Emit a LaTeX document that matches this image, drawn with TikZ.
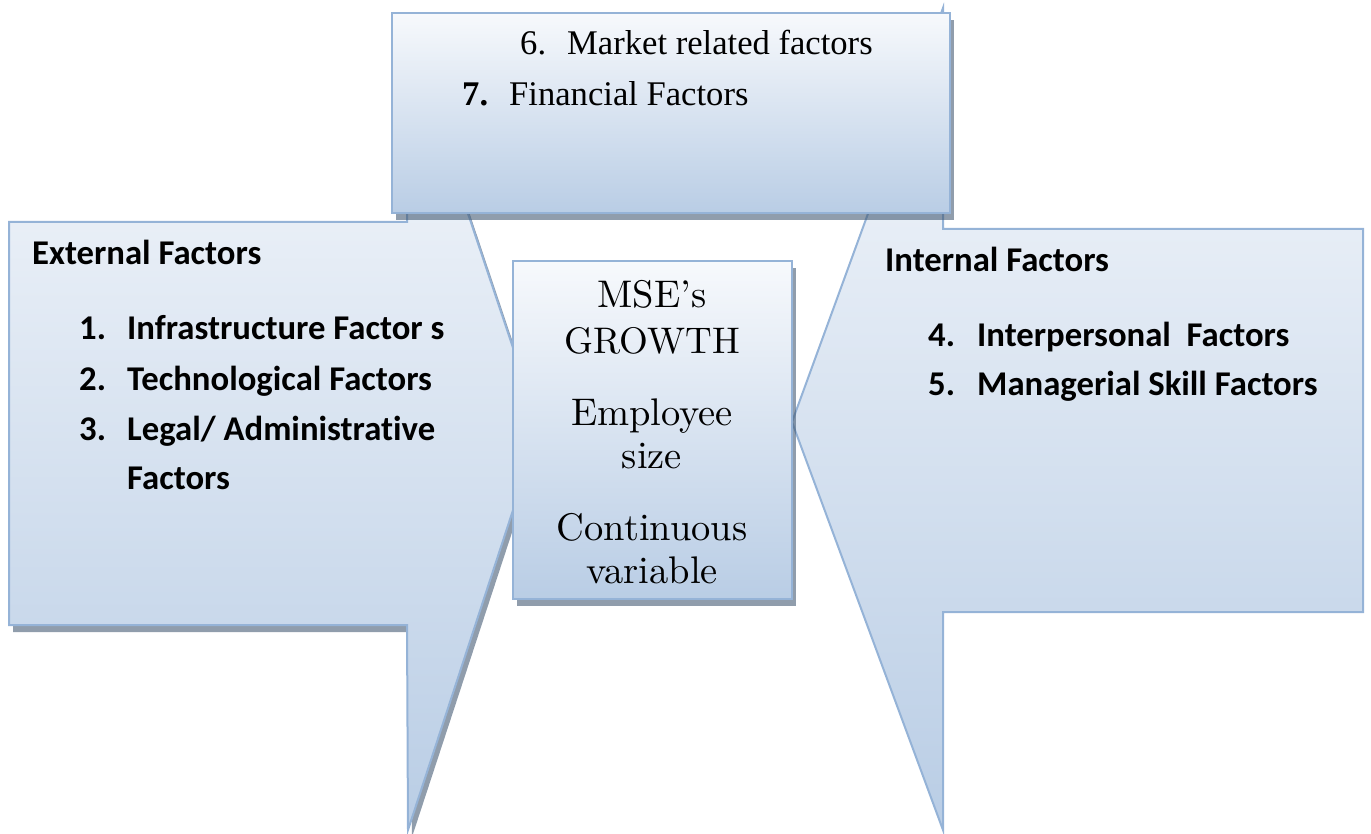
\documentclass[tikz,border=0pt]{standalone}
\usepackage{fontspec}
\newfontfamily\calib{Carlito}[Ligatures=NoCommon]
\newfontfamily\timesf{Liberation Serif}
\newfontfamily\lmten{lmroman10-regular.otf}
\definecolor{edge}{HTML}{95B3D7}
\definecolor{gtop}{HTML}{F7F9FC}
\definecolor{gbot}{HTML}{B9CDE5}
\definecolor{shade}{HTML}{3F5670}
\begin{document}
\begin{tikzpicture}[x=1pt,y=-1pt,
  panel/.style={draw=edge,line width=2pt,top color=gtop,bottom color=gbot,line join=miter},
  dropshadow/.style={fill=shade,fill opacity=0.58,draw=none,
    transform canvas={xshift=4pt,yshift=-7pt}},
  head/.style={font=\calib\bfseries\fontsize{34.7}{40}\selectfont,anchor=base west,inner sep=0pt},
  toptxt/.style={font=\timesf\fontsize{34.6}{40}\selectfont,anchor=base west,inner sep=0pt},
  mid/.style={font=\lmten\fontsize{38.5}{44}\selectfont,anchor=base,inner sep=0pt}]
\useasboundingbox (0,0) rectangle (1371,834);

% outline points of the external-factors callout
\coordinate (L1) at (9,222);   \coordinate (L2) at (407,222);
\coordinate (L3) at (407,32);  \coordinate (L4) at (540,428);
\coordinate (L5) at (408,830); \coordinate (L6) at (407,625);
\coordinate (L7) at (9,625);
% outline points of the internal-factors callout
\coordinate (R1) at (943,229);  \coordinate (R2) at (1363,229);
\coordinate (R3) at (1363,612); \coordinate (R4) at (943,612);
\coordinate (R5) at (943,830);  \coordinate (R6) at (792,422);
\coordinate (R7) at (943,8);
% top and centre boxes
\coordinate (T1) at (392,13);  \coordinate (T2) at (950,213);
\coordinate (C1) at (513,261); \coordinate (C2) at (792,599);

% external factors callout with its shadow
\fill[dropshadow] (L1) -- (L2) -- (L3) -- (L4) -- (L5) -- (L6) -- (L7) -- cycle;
\path[panel] (L1) -- (L2) -- (L3) -- (L4) -- (L5) -- (L6) -- (L7) -- cycle;

% internal factors callout
\path[panel] (R1) -- (R2) -- (R3) -- (R4) -- (R5) -- (R6) -- (R7) -- cycle;

% market / financial box
\fill[dropshadow] (T1) rectangle (T2);
\path[panel] (T1) rectangle (T2);

% growth box
\fill[dropshadow] (C1) rectangle (C2);
\path[panel] (C1) rectangle (C2);

% top box text
\node[toptxt] (n6) at (520,55) {6.};
\node[toptxt] (t6) at (567,55) {Market related factors};
\node[toptxt,font=\timesf\bfseries\fontsize{34.6}{40}\selectfont] (n7) at (462,106) {7.};
\node[toptxt] (t7) at (509,106) {Financial Factors};

% external factors
\node[head] (ext) at (32,265) {External Factors};
\node[head] (n1) at (79,340) {1.};
\node[head] (t1) at (127,340) {Infrastructure Factor s};
\node[head] (n2) at (79,390) {2.};
\node[head] (t2) at (127,390) {Technological Factors};
\node[head] (n3) at (79,440) {3.};
\node[head] (t3) at (127,440) {Legal/ Administrative};
\node[head] (t3b) at (127,489) {Factors};

% internal factors
\node[head] (int) at (885,272) {Internal Factors};
\node[head] (n4) at (928,347) {4.};
\node[head] (t4) at (977,347) {Interpersonal\ \ Factors};
\node[head] (n5) at (928,395) {5.};
\node[head] (t5) at (977,395) {Managerial Skill Factors};

% growth box text
\node[mid] (m1) at (652,308) {MSE’s};
\node[mid,font=\lmten\fontsize{37}{44}\selectfont] (m2) at (652,353) {GROWTH};
\node[mid] (m3) at (652,425) {Employee};
\node[mid] (m4) at (652,468) {size};
\node[mid] (m5) at (652,540) {Continuous};
\node[mid] (m6) at (652,583) {variable};
\end{tikzpicture}
\end{document}
